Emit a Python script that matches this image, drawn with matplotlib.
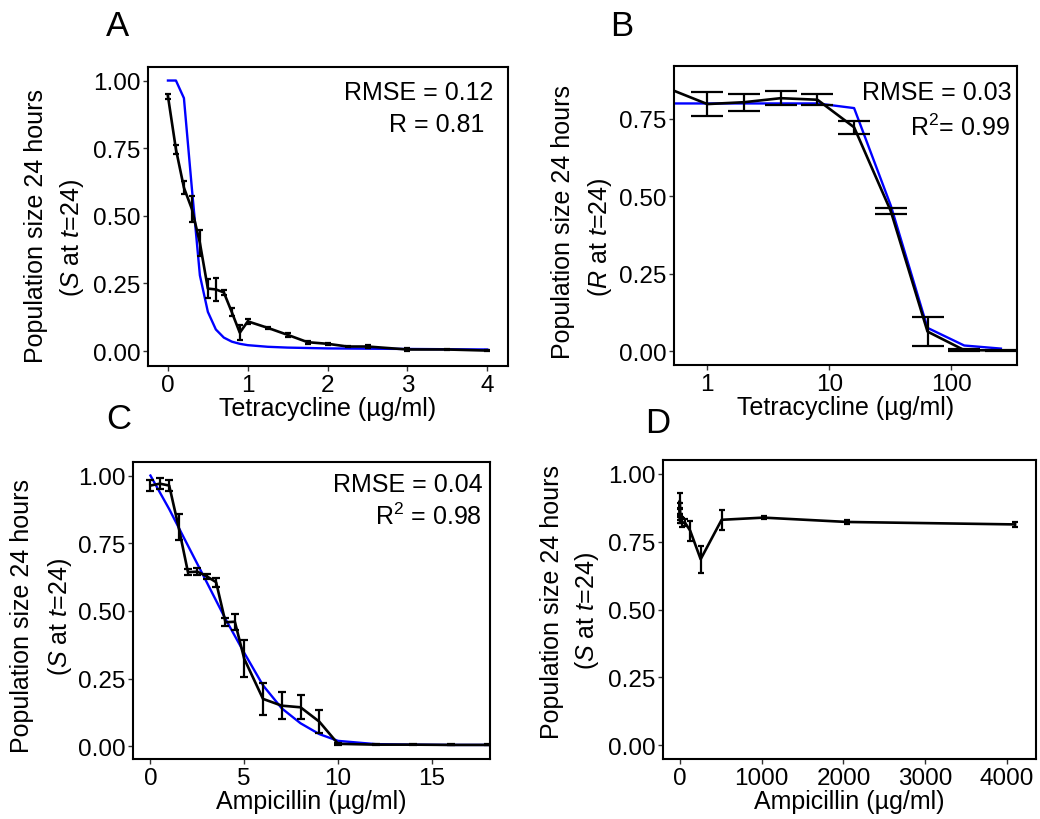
import matplotlib
matplotlib.use("Agg")
import matplotlib.pyplot as plt
import numpy as np

plt.rcParams['font.family'] = ['Liberation Sans', 'DejaVu Sans']
plt.rcParams['mathtext.fontset'] = 'custom'
plt.rcParams['mathtext.rm'] = 'Liberation Sans'
plt.rcParams['mathtext.it'] = 'Liberation Sans:italic'

# --- A: tetracycline, sensitive strain ---
tet_s_x = [0, 0.1, 0.2, 0.3, 0.4, 0.5, 0.6, 0.7, 0.8, 0.9, 1.0, 1.25, 1.5, 1.75, 2.0, 2.25, 2.5, 3.0, 3.5, 4.0]
tet_s_y = [0.942, 0.746, 0.604, 0.525, 0.40, 0.231, 0.228, 0.217, 0.144, 0.068, 0.11, 0.086, 0.06, 0.033, 0.027, 0.017, 0.017, 0.006, 0.006, 0.002]
tet_s_err = [0.009, 0.017, 0.023, 0.049, 0.048, 0.036, 0.041, 0.008, 0.015, 0.028, 0.008, 0.004, 0.006, 0.006, 0.003, 0.002, 0.005, 0.004, 0.003, 0.002]
tet_s_model_x = [0, 0.1, 0.2, 0.3, 0.4, 0.5, 0.6, 0.7, 0.8, 0.9, 1.0, 1.25, 1.5, 2.0, 3.0, 4.0]
tet_s_model_y = [1.0, 1.0, 0.935, 0.60, 0.28, 0.145, 0.08, 0.05, 0.035, 0.027, 0.022, 0.016, 0.013, 0.01, 0.008, 0.006]

# --- B: tetracycline, resistant strain (log x, 0 drawn at the left edge) ---
tet_r_x = [0, 1, 2, 4, 8, 16, 32, 64, 128, 256]
tet_r_y = [0.841, 0.798, 0.804, 0.817, 0.812, 0.723, 0.452, 0.063, 0.003, 0.002]
tet_r_err = [0.0, 0.039, 0.028, 0.022, 0.017, 0.021, 0.009, 0.048, 0.003, 0.002]
tet_r_model_x = [0, 1, 2, 4, 8, 16, 32, 64, 128, 256]
tet_r_model_y = [0.80, 0.80, 0.80, 0.80, 0.80, 0.785, 0.47, 0.075, 0.018, 0.008]

# --- C: ampicillin, low range ---
amp_x = [0, 0.5, 1, 1.5, 2, 2.5, 3, 3.5, 4, 4.5, 5, 6, 7, 8, 9, 10, 12, 14, 16, 18]
amp_y = [0.963, 0.97, 0.963, 0.81, 0.643, 0.645, 0.628, 0.606, 0.458, 0.46, 0.323, 0.175, 0.15, 0.144, 0.091, 0.009, 0.006, 0.006, 0.005, 0.005]
amp_err = [0.02, 0.02, 0.02, 0.047, 0.012, 0.012, 0.01, 0.017, 0.015, 0.03, 0.068, 0.058, 0.05, 0.045, 0.042, 0.004, 0.002, 0.002, 0.002, 0.002]
amp_model_x = [0, 1, 2, 3, 4, 5, 6, 7, 8, 9, 10, 12, 14, 16, 18]
amp_model_y = [1.0, 0.876, 0.741, 0.606, 0.47, 0.345, 0.225, 0.14, 0.085, 0.045, 0.02, 0.008, 0.006, 0.005, 0.005]

# --- D: ampicillin, high range ---
amp_hi_x = [0, 1, 2, 4, 8, 16, 32, 64, 128, 256, 512, 1024, 2048, 4096]
amp_hi_y = [0.83, 0.90, 0.87, 0.86, 0.84, 0.83, 0.82, 0.82, 0.79, 0.685, 0.83, 0.838, 0.822, 0.813]
amp_hi_err = [0.01, 0.03, 0.02, 0.015, 0.012, 0.01, 0.015, 0.012, 0.037, 0.05, 0.037, 0.005, 0.008, 0.01]

W, H = 1040, 820
FS_TICK = 17.5
FS_TEXT = 18


def rect(l, t, r, b):
    return [l / W, 1 - b / H, (r - l) / W, (b - t) / H]


def style(ax):
    for s in ax.spines.values():
        s.set_linewidth(1.5)
        s.set_color('black')
    ax.tick_params(axis='both', which='major', length=3.5, width=1.0,
                   color='#333333', labelsize=FS_TICK, pad=2, labelcolor='black')
    ax.tick_params(which='minor', length=0)


def ylab(ax, second, p1, p2):
    ax.text(p1[0], p1[1], "Population size 24 hours", rotation=90, ha='center',
            va='center', fontsize=FS_TEXT, transform=ax.transAxes)
    ax.text(p2[0], p2[1], second, rotation=90, ha='center', va='center',
            fontsize=FS_TEXT, transform=ax.transAxes)


fig = plt.figure(figsize=(10.4, 8.2), dpi=100)
yt = [0, 0.25, 0.5, 0.75, 1.0]
ytl = ['0.00', '0.25', '0.50', '0.75', '1.00']

# A
axA = fig.add_axes(rect(148, 68, 508, 367))
axA.plot(tet_s_model_x, tet_s_model_y, color='#0000ff', lw=1.7)
axA.errorbar(tet_s_x, tet_s_y, yerr=tet_s_err, color='black', lw=1.9,
             elinewidth=1.6, capsize=2.4, capthick=1.6)
axA.set_xlim(-0.25, 4.26)
axA.set_ylim(-0.055, 1.05)
axA.set_xticks([0, 1, 2, 3, 4])
axA.set_yticks(yt, ytl)
axA.set_xlabel("Tetracycline (µg/ml)", fontsize=FS_TEXT, labelpad=0)
ylab(axA, "($S$ at $t$=24)", (-0.311, 0.47), (-0.21, 0.431))
axA.text(0.958, 0.916, "RMSE = 0.12", ha='right', va='center', fontsize=FS_TEXT, transform=axA.transAxes)
axA.text(0.933, 0.809, "R = 0.81", ha='right', va='center', fontsize=FS_TEXT, transform=axA.transAxes)
style(axA)

# B
axB = fig.add_axes(rect(674, 67, 1017, 366))
xlo, xhi = 0.533, 347
bx = np.array(tet_r_x, dtype=float)
bmx = np.array(tet_r_model_x, dtype=float)
axB.plot(np.where(bmx == 0, xlo, bmx), tet_r_model_y, color='#0000ff', lw=1.7)
axB.plot(np.where(bx == 0, xlo, bx), tet_r_y, color='black', lw=1.9)
pos = bx > 0
axB.errorbar(bx[pos], np.array(tet_r_y)[pos], yerr=np.array(tet_r_err)[pos],
             fmt='none', ecolor='black', elinewidth=1.6, capsize=11.4, capthick=1.6)
axB.set_xscale('log')
axB.set_xlim(xlo, xhi)
axB.set_ylim(-0.045, 0.921)
axB.set_xticks([1, 10, 100], ['1', '10', '100'])
axB.set_yticks(yt[:4], ytl[:4])
axB.set_xlabel("Tetracycline (µg/ml)", fontsize=FS_TEXT, labelpad=0)
ylab(axB, "($R$ at $t$=24)", (-0.324, 0.48), (-0.216, 0.43))
axB.text(0.985, 0.913, "RMSE = 0.03", ha='right', va='center', fontsize=FS_TEXT, transform=axB.transAxes)
axB.text(0.98, 0.796, "R$^2$= 0.99", ha='right', va='center', fontsize=FS_TEXT, transform=axB.transAxes)
style(axB)

# C
axC = fig.add_axes(rect(133, 463, 490, 760))
axC.plot(amp_model_x, amp_model_y, color='#0000ff', lw=1.7)
axC.errorbar(amp_x, amp_y, yerr=amp_err, color='black', lw=1.9,
             elinewidth=1.6, capsize=3.1, capthick=1.6)
axC.set_xlim(-0.93, 18.1)
axC.set_ylim(-0.047, 1.05)
axC.set_xticks([0, 5, 10, 15])
axC.set_yticks(yt, ytl)
axC.set_xlabel("Ampicillin (µg/ml)", fontsize=FS_TEXT, labelpad=0)
ylab(axC, "($S$ at $t$=24)", (-0.311, 0.485), (-0.204, 0.48))
axC.text(0.98, 0.926, "RMSE = 0.04", ha='right', va='center', fontsize=FS_TEXT, transform=axC.transAxes)
axC.text(0.978, 0.818, "R$^2$ = 0.98", ha='right', va='center', fontsize=FS_TEXT, transform=axC.transAxes)
style(axC)

# D
axD = fig.add_axes(rect(663, 461, 1036, 760))
axD.errorbar(amp_hi_x, amp_hi_y, yerr=amp_hi_err, color='black', lw=1.9,
             elinewidth=1.6, capsize=2.4, capthick=1.6)
axD.set_xlim(-204, 4352)
axD.set_ylim(-0.05, 1.05)
axD.set_xticks([0, 1000, 2000, 3000, 4000])
axD.set_yticks(yt, ytl)
axD.set_xlabel("Ampicillin (µg/ml)", fontsize=FS_TEXT, labelpad=0)
ylab(axD, "($S$ at $t$=24)", (-0.298, 0.527), (-0.204, 0.497))
style(axD)

# panel letters
for lab, x, y in [("A", 117, 26), ("B", 622, 26), ("C", 119, 420), ("D", 658, 424)]:
    fig.text(x / W, 1 - y / H, lab, fontsize=25, ha='center', va='center')

fig.savefig("out.png", dpi=100)
